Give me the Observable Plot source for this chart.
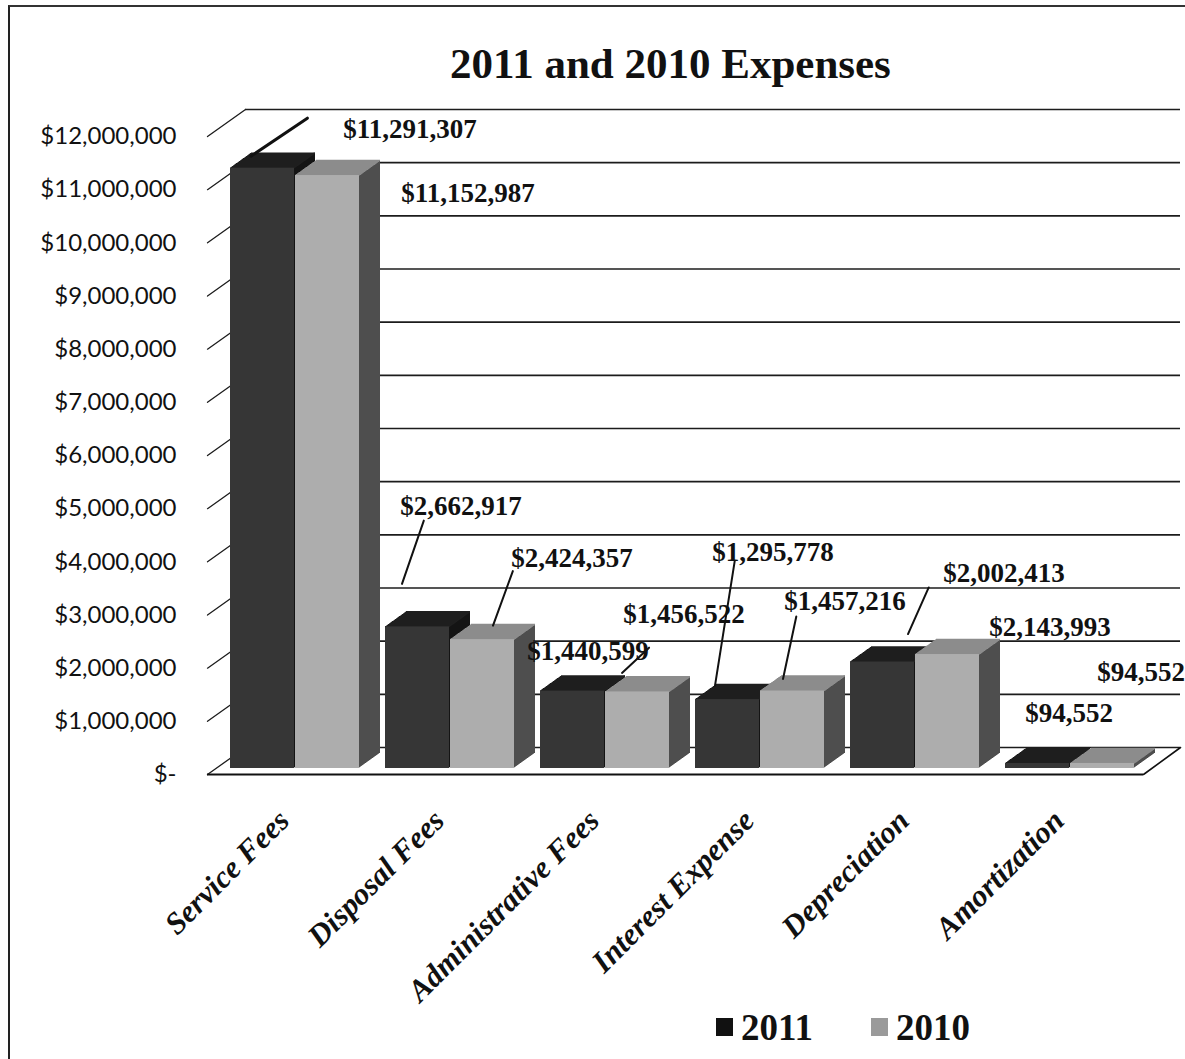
<!DOCTYPE html>
<html>
<head>
<meta charset="utf-8">
<script src="https://cdn.jsdelivr.net/npm/d3@7"></script>
<script src="https://cdn.jsdelivr.net/npm/@observablehq/plot@0.6"></script>
<style>
  html, body { margin: 0; padding: 0; background: #fff; }
  #page { position: relative; width: 1185px; height: 1059px; overflow: hidden; background: #fff; }
  #frame { position: absolute; left: 8px; top: 5px; width: 1200px; height: 1100px; border-left: 2px solid #222; border-top: 2px solid #333; pointer-events: none; }
  #title { position: absolute; left: 0; top: 0; width: 1185px; height: 100px; box-sizing: border-box; padding-top: 40px; padding-left: 450px; font: bold 43px/48px "Liberation Serif", "Times New Roman", serif; color: #111; white-space: nowrap; }
  #chart { position: absolute; left: 0; top: 100px; }
  #legend { position: absolute; left: 0; top: 1005px; width: 1185px; height: 50px; font: bold 37px/40px "Liberation Serif", "Times New Roman", serif; color: #111; }
  #legend .sw { position: absolute; top: 13px; width: 17px; height: 18px; }
  #legend .lb { position: absolute; top: 3px; }
</style>
</head>
<body>
<div id="page">
  <div id="frame"></div>
  <div id="title">2011 and 2010 Expenses</div>
  <div id="chart"></div>
  <div id="legend"></div>
</div>
<script>
// ---------- data ----------
const categories = ["Service Fees", "Disposal Fees", "Administrative Fees", "Interest Expense", "Depreciation", "Amortization"];
const seriesNames = ["2011", "2010"];
const values2011 = [11291307, 2662917, 1456522, 1295778, 2002413, 94552];
const values2010 = [11152987, 2424357, 1440599, 1457216, 2143993, 94552];
const yTicks = [0, 1000000, 2000000, 3000000, 4000000, 5000000, 6000000, 7000000, 8000000, 9000000, 10000000, 11000000, 12000000];

const rows = categories.flatMap((c, i) => [
  {category: c, series: "2011", value: values2011[i]},
  {category: c, series: "2010", value: values2010[i]}
]);

// ---------- styling / layout ----------
const BAND = 155;
const DEPTH_X = 21, DEPTH_Y = 15;
const seriesStyle = {
  "2011": {left: 0,  width: 64, front: "#363636", top: "#1f1f1f", side: "#141414", swatch: "#111"},
  "2010": {left: 65, width: 64, front: "#adadad", top: "#8c8c8c", side: "#4e4e4e", swatch: "#9a9a9a"}
};
const money = v => v === 0 ? "$-" : "$" + d3.format(",")(v);

// label placement (offsets from bar top/center), as in the original chart
const labelLayout = [
  {category: "Service Fees", series: "2011", dx: 102, dy: -39},
  {category: "Service Fees", series: "2010", dx: 160, dy: 18},
  {category: "Disposal Fees", series: "2011", dx: -2, dy: -121},
  {category: "Disposal Fees", series: "2010", dx: 109, dy: -81},
  {category: "Administrative Fees", series: "2011", dx: 66, dy: -77},
  {category: "Administrative Fees", series: "2010", dx: -30, dy: -41},
  {category: "Interest Expense", series: "2011", dx: 0, dy: -147},
  {category: "Interest Expense", series: "2010", dx: 72, dy: -90},
  {category: "Depreciation", series: "2011", dx: 76, dy: -89},
  {category: "Depreciation", series: "2010", dx: 122, dy: -27},
  {category: "Amortization", series: "2011", dx: -14, dy: -50},
  {category: "Amortization", series: "2010", dx: 58, dy: -91}
];
const leaderLayout = [
  {category: "Service Fees", series: "2011", dx: -57, dy: -12, length: 68, rotate: 56, w: 3},
  {category: "Disposal Fees", series: "2011", dx: -61, dy: -43, length: 67, rotate: 19, w: 2},
  {category: "Disposal Fees", series: "2010", dx: 30, dy: -14, length: 58, rotate: 20, w: 2},
  {category: "Administrative Fees", series: "2010", dx: 4, dy: -19, length: 37, rotate: 47, w: 2},
  {category: "Interest Expense", series: "2011", dx: -58, dy: -14, length: 126, rotate: 9, w: 2},
  {category: "Interest Expense", series: "2010", dx: 10, dy: -12, length: 64, rotate: 12, w: 2},
  {category: "Depreciation", series: "2011", dx: -20, dy: -28, length: 51, rotate: 24, w: 2}
];

const marks = [];

// back wall gridlines
marks.push(Plot.ruleY(yTicks, {dy: -21, insetLeft: 38, stroke: "#1c1c1c", strokeWidth: 1.6}));
// side wall diagonal ticks
marks.push(Plot.vector(yTicks, {y: d => d, frameAnchor: "left", dy: 6, length: 46.6, rotate: 54.6, anchor: "start", r: 0, stroke: "#1c1c1c", strokeWidth: 1.3}));
// floor front and right edges
marks.push(Plot.ruleY([0], {dy: 6, insetRight: 37, stroke: "#111", strokeWidth: 2}));
marks.push(Plot.vector([0], {y: d => d, frameAnchor: "right", dx: -37, dy: 6, length: 45.8, rotate: 53.9, anchor: "start", r: 0, stroke: "#111", strokeWidth: 1.6}));

// 3D bars
for (const s of seriesNames) {
  const st = seriesStyle[s];
  const data = rows.filter(d => d.series === s);
  const insetL = st.left;
  const insetR = BAND - st.left - st.width;
  for (let k = DEPTH_X; k >= 1; k--) {
    marks.push(Plot.barY(data, {x: "category", y: "value", insetLeft: st.left + st.width - 1.5, insetRight: insetR, dx: k, dy: -k * DEPTH_Y / DEPTH_X, fill: st.side}));
  }
  for (let k = DEPTH_X; k >= 0; k--) {
    marks.push(Plot.tickY(data, {x: "category", y: "value", insetLeft: insetL, insetRight: insetR, dx: k, dy: -k * DEPTH_Y / DEPTH_X, stroke: st.top, strokeWidth: 1.6}));
  }
  marks.push(Plot.barY(data, {x: "category", y: "value", insetLeft: insetL, insetRight: insetR, fill: st.front}));
}

// leader lines
for (const L of leaderLayout) {
  marks.push(Plot.vector(rows.filter(d => d.category === L.category && d.series === L.series), {
    x: "category", y: "value", dx: L.dx, dy: L.dy, length: L.length, rotate: L.rotate,
    anchor: "start", r: 0, stroke: "#111", strokeWidth: L.w
  }));
}

// value labels
for (const L of labelLayout) {
  marks.push(Plot.text(rows.filter(d => d.category === L.category && d.series === L.series), {
    x: "category", y: "value", text: d => money(d.value), dx: L.dx, dy: L.dy,
    fontFamily: "Liberation Serif", fontWeight: "bold", fontSize: 27, fill: "#111"
  }));
}

// y axis labels
marks.push(Plot.axisY(yTicks, {tickSize: 0, tickPadding: 31, dy: 6, tickFormat: money, label: null, fontSize: 24, fontFamily: "Lato", fill: "#111"}));

// category labels
marks.push(Plot.text(categories, {
  x: d => d, frameAnchor: "bottom", rotate: -45, textAnchor: "end", dx: -17, dy: 54,
  fontFamily: "Liberation Serif", fontWeight: "bold", fontStyle: "italic", fontSize: 31, fill: "#111"
}));

const chart = Plot.plot({
  width: 1185,
  height: 905,
  marginLeft: 207,
  marginRight: 5,
  marginTop: 30,
  marginBottom: 237,
  x: {type: "band", domain: categories, range: [230, 1160], padding: 0, round: false, axis: null},
  y: {domain: [0, 12000000], axis: null, label: null},
  style: {background: "transparent", color: "#111", overflow: "visible"},
  marks
});
document.getElementById("chart").appendChild(chart);

// legend
const legend = d3.select("#legend");
const legendPos = {"2011": {sw: 716, lb: 741}, "2010": {sw: 871, lb: 896}};
for (const s of seriesNames) {
  legend.append("span").attr("class", "sw").style("left", legendPos[s].sw + "px").style("background", seriesStyle[s].swatch);
  legend.append("span").attr("class", "lb").style("left", legendPos[s].lb + "px").text(s);
}
</script>
</body>
</html>
